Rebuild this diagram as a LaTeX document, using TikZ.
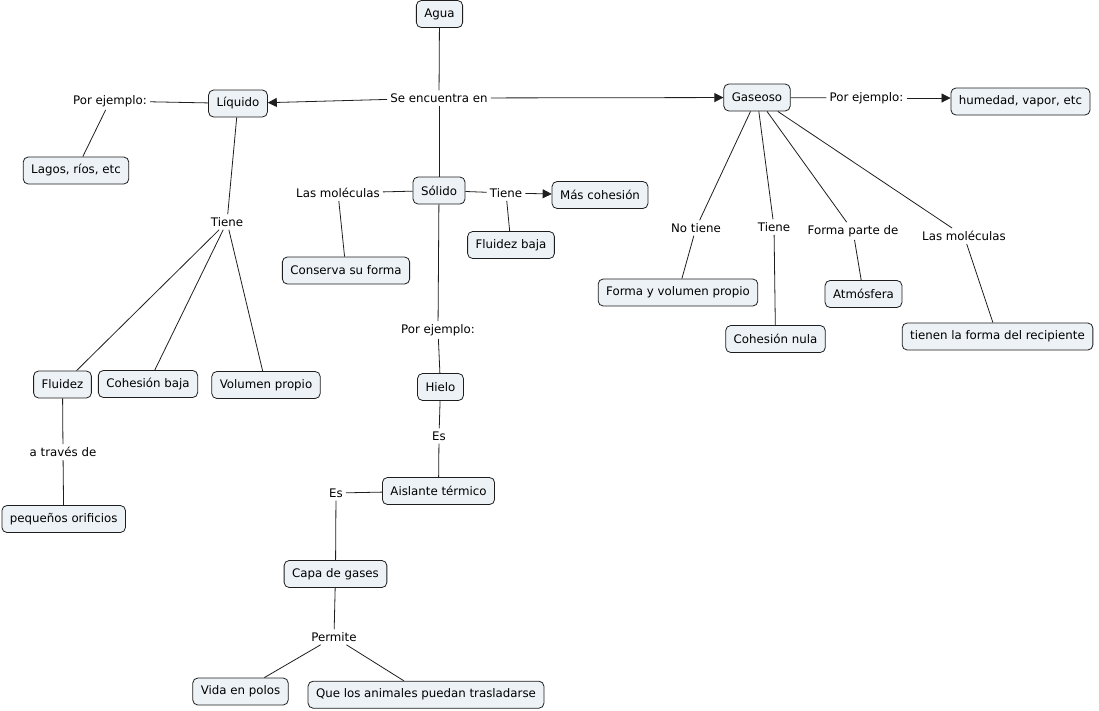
\documentclass[tikz,border=0pt]{standalone}
\usepackage{fontspec}
\setmainfont{DejaVu Sans}
\usetikzlibrary{arrows.meta}
\definecolor{cfill}{RGB}{236,242,245}
\definecolor{cline}{RGB}{30,30,30}
\tikzset{
  concept/.style={draw=cline, line width=0.8pt, rounded corners=5pt, fill=cfill,
    inner xsep=8pt, inner ysep=0pt, minimum height=27pt, font=\fontsize{11.8}{13}\selectfont, text=black},
  lbl/.style={fill=white, inner xsep=3pt, inner ysep=3pt, font=\fontsize{11.8}{13}\selectfont, text=black},
  conn/.style={draw=cline, line width=0.8pt},
  arr/.style={conn, -{Triangle[length=9pt,width=9pt]}}
}
\begin{document}
\begin{tikzpicture}[x=1pt,y=-1pt]
\useasboundingbox (0,0) rectangle (1099,710);
% concepts
\node[concept] (agua) at (439.5,14) {Agua};
\node[concept] (liq) at (238,103.5) {Líquido};
\node[concept] (gas) at (757,97.5) {Gaseoso};
\node[concept] (hum) at (1020.5,101.5) {humedad, vapor, etc};
\node[concept] (lagos) at (76,170.5) {Lagos, ríos, etc};
\node[concept] (sol) at (439,190.5) {Sólido};
\node[concept] (mas) at (600,195) {Más cohesión};
\node[concept] (flb) at (511,245) {Fluidez baja};
\node[concept] (cons) at (346,270.5) {Conserva su forma};
\node[concept] (fyv) at (678,292.5) {Forma y volumen propio};
\node[concept] (cnula) at (775.5,339) {Cohesión nula};
\node[concept] (atm) at (863.5,294) {Atmósfera};
\node[concept] (recip) at (997.5,336.5) {tienen la forma del recipiente};
\node[concept] (flu) at (62.5,384.5) {Fluidez};
\node[concept] (cbaja) at (148,384) {Cohesión baja};
\node[concept] (vol) at (266,385) {Volumen propio};
\node[concept] (peq) at (63.7,519) {pequeños orificios};
\node[concept] (hielo) at (440.5,387) {Hielo};
\node[concept] (ais) at (438.5,491) {Aislante térmico};
\node[concept] (capa) at (335.5,574) {Capa de gases};
\node[concept] (vida) at (240.5,691.5) {Vida en polos};
\node[concept] (anim) at (426,694.7) {Que los animales puedan trasladarse};
% linking phrases
\node[lbl] (se) at (439,98) {Se encuentra en};
\node[lbl] (pe1) at (110,101) {Por ejemplo:};
\node[lbl] (pe2) at (866.5,98) {Por ejemplo:};
\node[lbl] (lm1) at (338,193) {Las moléculas};
\node[lbl] (ti1) at (506,193) {Tiene};
\node[lbl] (til) at (227,222) {Tiene};
\node[lbl] (atr) at (63,452) {a través de};
\node[lbl] (pe3) at (438,330) {Por ejemplo:};
\node[lbl] (es1) at (439,436) {Es};
\node[lbl] (es2) at (336,493) {Es};
\node[lbl] (perm) at (334,637) {Permite};
\node[lbl] (not) at (696,228) {No tiene};
\node[lbl] (tig) at (774,227) {Tiene};
\node[lbl] (fpd) at (853,231) {Forma parte de};
\node[lbl] (lm2) at (964,236) {Las moléculas};
% connectors
\draw[conn] (agua) -- (se);
\draw[conn] (se) -- (sol);
\draw[arr] (se) -- (liq);
\draw[arr] (se) -- (gas);
\draw[conn] (liq) -- (pe1);
\draw[conn] (pe1) -- (lagos);
\draw[conn] (gas) -- (pe2);
\draw[arr] (pe2.east) -- (pe2.east -| hum.west);
\draw[conn] (sol) -- (lm1);
\draw[conn] (lm1) -- (cons);
\draw[conn] (sol) -- (ti1);
\draw[arr] (ti1) -- (mas);
\draw[conn] (ti1) -- (flb);
\draw[conn] (liq) -- (til);
\draw[conn] (til) -- (flu);
\draw[conn] (til) -- (cbaja);
\draw[conn] (til) -- (vol);
\draw[conn] (flu) -- (atr);
\draw[conn] (atr) -- (peq);
\draw[conn] (sol) -- (pe3);
\draw[conn] (pe3) -- (hielo);
\draw[conn] (hielo) -- (es1);
\draw[conn] (es1) -- (ais);
\draw[conn] (ais) -- (es2);
\draw[conn] (es2) -- (capa);
\draw[conn] (capa) -- (perm);
\draw[conn] (perm) -- (vida);
\draw[conn] (perm) -- (anim);
\draw[conn] (gas) -- (not);
\draw[conn] (not) -- (fyv);
\draw[conn] (gas) -- (tig);
\draw[conn] (tig) -- (cnula);
\draw[conn] (gas) -- (fpd);
\draw[conn] (fpd) -- (atm);
\draw[conn] (gas) -- (lm2);
\draw[conn] (lm2) -- (recip);
\end{tikzpicture}
\end{document}
